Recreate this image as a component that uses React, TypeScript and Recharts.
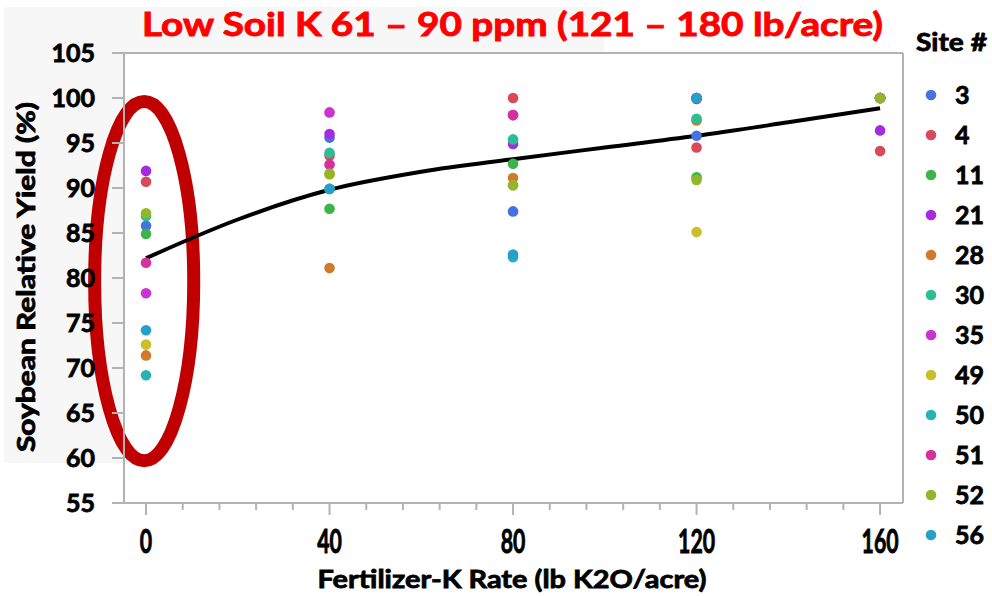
import React from 'react';
import { ComposedChart, Scatter, Line, XAxis, YAxis, ReferenceLine, ReferenceArea } from 'recharts';

const rates = [0, 40, 80, 120, 160];
const siteNames = ['3', '4', '11', '21', '28', '30', '35', '49', '50', '51', '52', '56'];
const siteColors = ['#4472e0', '#d64a5a', '#3cb44b', '#a42be0', '#d27a2c', '#2bbd94', '#c833d1', '#c8bf2c', '#27b3b3', '#d5309d', '#93b52a', '#27a0c9'];
const site3 = [85.8, 95.6, 87.4, 95.8, 100];
const site4 = [90.7, 93.6, 100, 94.5, 94.1];
const site11 = [84.9, 87.7, 92.7, 91.2, 100];
const site21 = [91.9, 96.0, 94.9, 99.9, 96.4];
const site28 = [71.4, 81.1, 91.1, 97.5, 100];
const site30 = [86.9, 93.9, 95.4, 97.7, 100];
const site35 = [78.3, 98.4, 98.1, 100, 100];
const site49 = [72.6, 91.5, 90.3, 85.1, 100];
const site50 = [69.2, 89.9, 82.3, 100, 100];
const site51 = [81.7, 92.6, 98.1, 100, 100];
const site52 = [87.2, 91.6, 90.3, 90.9, 100];
const site56 = [74.2, 89.9, 82.6, 100, null];
const siteValues = [site3, site4, site11, site21, site28, site30, site35, site49, site50, site51, site52, site56];

const trendRates = [0, 20, 40, 60, 80, 100, 120, 140, 160];
const trendYield = [82.2, 86.5, 89.8, 91.8, 93.2, 94.5, 95.8, 97.3, 98.85];

const xDomain = [-4.8, 165];
const yDomain = [55, 105];
const xTicks = [0, 8, 16, 24, 32, 40, 48, 56, 64, 72, 80, 88, 96, 104, 112, 120, 128, 136, 144, 152, 160];
const xLabelTicks = [0, 40, 80, 120, 160];
const yTicks = [55, 60, 65, 70, 75, 80, 85, 90, 95, 100, 105];
const ellipseX = [-11.2, 10.4];
const ellipseY = [59.7, 99.6];

const title = 'Low Soil K 61 \u2013 90 ppm (121 \u2013 180 lb/acre)';
const xTitle = 'Fertilizer-K Rate (lb K2O/acre)';
const yTitle = 'Soybean Relative Yield (%)';
const legendTitle = 'Site #';

const FONT = 'Lato, "Noto Sans", sans-serif';
const W = 700;
const AXIS = '#b3b3b3';
const heavy = { stroke: '#000', strokeWidth: 0.8 };

const seriesData = siteValues.map((vals) =>
  rates.map((r, i) => ({ x: r, y: vals[i] })).filter((d) => d.y !== null)
);
const trendData = trendRates.map((r, i) => ({ x: r, y: trendYield[i] }));

const XTick = (props: any) => {
  const { x, y, payload } = props;
  const major = xLabelTicks.includes(payload.value);
  return (
    <g>
      <line x1={x} x2={x} y1={y} y2={y + (major ? 12 : 7)} stroke={AXIS} strokeWidth={2} />
      {major && (
        <text
          transform={`translate(${x},${y + 50}) scale(0.85,1.3)`}
          textAnchor="middle"
          fontFamily={FONT}
          fontWeight={W}
          fontSize={25}
          fill="#000"
          stroke="#000"
          strokeWidth={0.7}
        >
          {payload.value}
        </text>
      )}
    </g>
  );
};

const YTick = (props: any) => {
  const { x, y, payload } = props;
  return (
    <text x={x} y={y + 9} textAnchor="end" fontFamily={FONT} fontWeight={W} fontSize={25} fill="#000" {...heavy}>
      {payload.value}
    </text>
  );
};

const Dot = (color: string) => (p: any) =>
  p.cx == null ? <g /> : <circle cx={p.cx} cy={p.cy} r={5.3} fill={color} />;

const EllipseShape = (p: any) => (
  <ellipse
    cx={p.x + p.width / 2}
    cy={p.y + p.height / 2}
    rx={Math.abs(p.width) / 2}
    ry={Math.abs(p.height) / 2}
    fill="none"
    stroke="#c00000"
    strokeWidth={13}
  />
);

export default function App() {
  return (
    <div style={{ position: 'absolute', left: 0, top: 0, width: 992, height: 596, background: '#fff', overflow: 'hidden' }}>
      <div style={{ position: 'absolute', left: 4, top: 7, width: 600, height: 456, background: '#f7f7f7' }} />
      <div style={{ position: 'absolute', left: 124, top: 53, width: 779, height: 450, background: '#fff' }} />
      <div style={{ position: 'absolute', left: 0, top: 0 }}>
        <ComposedChart width={992} height={596} margin={{ top: 53, right: 89, bottom: 0, left: 0 }}>
          <XAxis
            type="number"
            dataKey="x"
            domain={xDomain}
            ticks={xTicks}
            interval={0}
            height={93}
            axisLine={{ stroke: AXIS, strokeWidth: 2 }}
            tickLine={false}
            tickSize={0}
            tickMargin={0}
            tick={<XTick />}
            allowDataOverflow
          />
          <YAxis
            type="number"
            dataKey="y"
            domain={yDomain}
            ticks={yTicks}
            interval={0}
            width={124}
            axisLine={{ stroke: AXIS, strokeWidth: 2 }}
            tickLine={{ stroke: AXIS, strokeWidth: 2 }}
            tickSize={12}
            tickMargin={17}
            tick={<YTick />}
            allowDataOverflow
          />
          <ReferenceLine y={105} stroke={AXIS} strokeWidth={2} />
          <ReferenceLine x={165} stroke={AXIS} strokeWidth={2} />
          <ReferenceArea
            x1={ellipseX[0]}
            x2={ellipseX[1]}
            y1={ellipseY[0]}
            y2={ellipseY[1]}
            ifOverflow="visible"
            shape={EllipseShape}
          />
          {seriesData.map((d, i) => (
            <Scatter
              key={siteNames[i]}
              name={siteNames[i]}
              data={d}
              dataKey="y"
              fill={siteColors[i]}
              shape={Dot(siteColors[i])}
              isAnimationActive={false}
            />
          ))}
          <Line
            data={trendData}
            dataKey="y"
            type="monotone"
            stroke="#000"
            strokeWidth={4}
            dot={false}
            activeDot={false}
            isAnimationActive={false}
          />
        </ComposedChart>
      </div>
      <svg width={992} height={596} style={{ position: 'absolute', left: 0, top: 0, pointerEvents: 'none' }}>
        <text x={512.5} y={36} textAnchor="middle" fontFamily={FONT} fontWeight={W} fontSize={32} fill="#ff0000" stroke="#ff0000" strokeWidth={0.9} textLength={741} lengthAdjust="spacingAndGlyphs">
          {title}
        </text>
        <text x={512} y={588} textAnchor="middle" fontFamily={FONT} fontWeight={W} fontSize={25} fill="#000" {...heavy} textLength={389} lengthAdjust="spacingAndGlyphs">
          {xTitle}
        </text>
        <text transform="translate(35,277) rotate(-90)" textAnchor="middle" fontFamily={FONT} fontWeight={W} fontSize={24} fill="#000" {...heavy} textLength={350} lengthAdjust="spacingAndGlyphs">
          {yTitle}
        </text>
        <text x={916} y={51} fontFamily={FONT} fontWeight={W} fontSize={25} fill="#000" {...heavy} textLength={71} lengthAdjust="spacingAndGlyphs">
          {legendTitle}
        </text>
        {siteNames.map((s, i) => (
          <g key={s}>
            <circle cx={931} cy={95 + 40 * i} r={5.3} fill={siteColors[i]} />
            <text x={955} y={95 + 40 * i + 9} fontFamily={FONT} fontWeight={W} fontSize={25} fill="#000" {...heavy}>
              {s}
            </text>
          </g>
        ))}
      </svg>
    </div>
  );
}
